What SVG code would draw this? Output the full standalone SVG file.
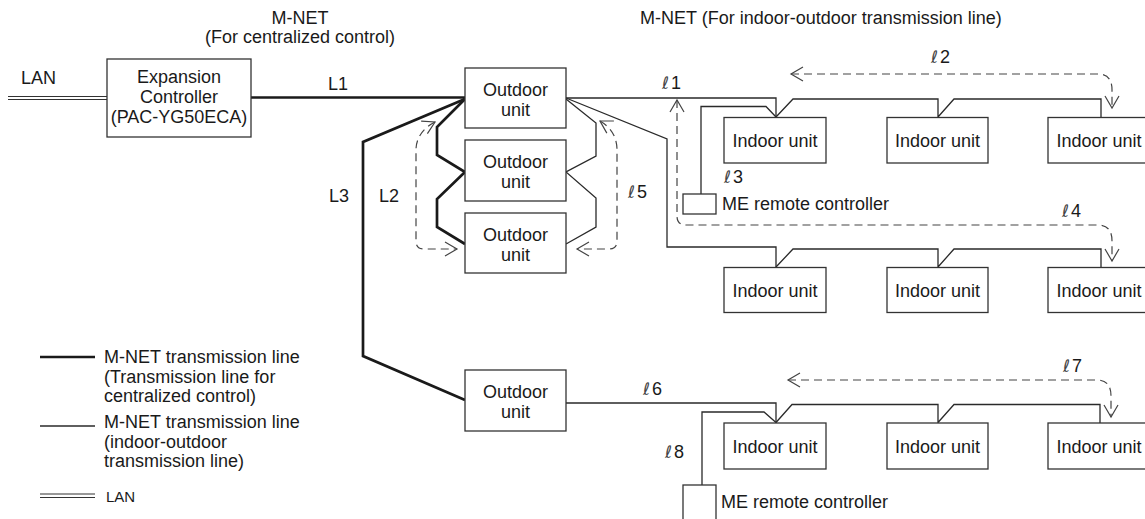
<svg xmlns="http://www.w3.org/2000/svg" width="1145" height="519" viewBox="0 0 1145 519">
<style>
text{font-family:"Liberation Sans",Arial,sans-serif;font-size:18px;fill:#1a1a1a}
.c{text-anchor:middle}
.ell{font-family:"DejaVu Sans",sans-serif;font-style:italic;font-size:17px;fill:#444}
.box{fill:#fff;stroke:#333;stroke-width:1.3}
.thin{fill:none;stroke:#2a2a2a;stroke-width:1.3}
.thick{fill:none;stroke:#1a1a1a;stroke-width:2.7;stroke-linejoin:miter}
.dash{fill:none;stroke:#444;stroke-width:1.2;stroke-dasharray:8 5;marker-start:url(#arr);marker-end:url(#arr)}
.lan{fill:none;stroke:#333;stroke-width:1.1}
</style>
<defs>
<marker id="arr" markerUnits="userSpaceOnUse" viewBox="-14 -10 16 20" markerWidth="16" markerHeight="20" refX="0" refY="0" orient="auto-start-reverse">
<path d="M -12 -7 L 0 0 L -12 7" fill="none" stroke="#444" stroke-width="1.2" stroke-dasharray="none"/>
</marker>
</defs>
<rect width="1145" height="519" fill="#fff"/>

<g id="headers">
<text class="c" x="300" y="24">M-NET</text>
<text class="c" x="300" y="43">(For centralized control)</text>
<text x="640" y="24">M-NET (For indoor-outdoor transmission line)</text>
</g>

<g id="connectors">
<path class="lan" d="M 8 96.5 H 107 M 8 99.5 H 107"/>
<path class="thick" d="M 251 97.5 H 465"/>
<path class="thick" d="M 465 99 L 437 127 V 155 L 465 172 L 437 199 V 227 L 465 244"/>
<path class="thick" d="M 465 99 L 363 142 V 356 L 465 400"/>
<path class="thin" d="M 566 99 L 596 123 V 156 L 566 172 L 596 198 V 227 L 566 244"/>
<path class="thin" d="M 566 98 H 776 V 117.5"/>
<path class="thin" d="M 776 117 L 793 99 H 938 V 117.5 M 938 117 L 954 99 H 1101 V 117.5"/>
<path class="thin" d="M 701 194 V 106.5 H 766 L 776 117"/>
<path class="thin" d="M 566 98 L 667 139 V 247 H 776 V 267.5"/>
<path class="thin" d="M 776 267 L 793 249 H 938 V 267.5 M 938 267 L 954 249 H 1101 V 267.5"/>
<path class="thin" d="M 566 403 H 776 V 423"/>
<path class="thin" d="M 776 422.5 L 792 404.5 H 938 V 423 M 938 422.5 L 954 404.5 H 1100 V 423"/>
<path class="thin" d="M 702 485 V 412 H 764 L 776 422.5"/>
<path class="dash" d="M 435 122 C 423 128 416 138 416 150 V 241 Q 416 249 424 249 H 457"/>
<path class="dash" d="M 600 121 C 612 128 617 138 617 150 V 241 Q 617 249 609 249 H 577"/>
<path class="dash" d="M 791 74 H 1098 Q 1112 74 1112 90 V 108"/>
<path class="dash" d="M 677 100 V 216 Q 677 225 686 225 H 1098 Q 1112 225 1112 241 V 261"/>
<path class="dash" d="M 788 380 H 1097 Q 1111 380 1111 396 V 417"/>
</g>

<g id="labels">
<text x="21" y="84">LAN</text>
<text x="328" y="90">L1</text>
<text x="329" y="202">L3</text>
<text x="379" y="202">L2</text>
<text x="662" y="89"><tspan class="ell">ℓ</tspan><tspan dx="2">1</tspan></text>
<text x="931" y="63"><tspan class="ell">ℓ</tspan><tspan dx="2">2</tspan></text>
<text x="724" y="183"><tspan class="ell">ℓ</tspan><tspan dx="2">3</tspan></text>
<text x="1062" y="217"><tspan class="ell">ℓ</tspan><tspan dx="2">4</tspan></text>
<text x="628" y="198"><tspan class="ell">ℓ</tspan><tspan dx="2">5</tspan></text>
<text x="643" y="395"><tspan class="ell">ℓ</tspan><tspan dx="2">6</tspan></text>
<text x="1063" y="372"><tspan class="ell">ℓ</tspan><tspan dx="2">7</tspan></text>
<text x="665" y="458"><tspan class="ell">ℓ</tspan><tspan dx="2">8</tspan></text>
</g>

<g id="expansion-controller">
<rect class="box" x="107" y="59" width="144" height="78"/>
<text class="c" x="179" y="83">Expansion</text>
<text class="c" x="179" y="103">Controller</text>
<text class="c" x="179" y="123">(PAC-YG50ECA)</text>
</g>

<g id="outdoor-1">
<rect class="box" x="465" y="68" width="101" height="60"/>
<text class="c" x="515.5" y="96">Outdoor</text>
<text class="c" x="515.5" y="116">unit</text>
</g>
<g id="outdoor-2">
<rect class="box" x="465" y="140" width="101" height="61"/>
<text class="c" x="515.5" y="168">Outdoor</text>
<text class="c" x="515.5" y="188">unit</text>
</g>
<g id="outdoor-3">
<rect class="box" x="465" y="213" width="101" height="60"/>
<text class="c" x="515.5" y="241">Outdoor</text>
<text class="c" x="515.5" y="261">unit</text>
</g>
<g id="outdoor-4">
<rect class="box" x="465" y="370" width="101" height="61"/>
<text class="c" x="515.5" y="398">Outdoor</text>
<text class="c" x="515.5" y="418">unit</text>
</g>

<g id="indoor-1-1"><rect class="box" x="724" y="117.5" width="102" height="45.5"/><text class="c" x="775" y="147">Indoor unit</text></g>
<g id="indoor-1-2"><rect class="box" x="887" y="117.5" width="101" height="45.5"/><text class="c" x="937.5" y="147">Indoor unit</text></g>
<g id="indoor-1-3"><rect class="box" x="1048" y="117.5" width="102" height="45.5"/><text class="c" x="1099" y="147">Indoor unit</text></g>

<g id="indoor-2-1"><rect class="box" x="724" y="267.5" width="102" height="45"/><text class="c" x="775" y="297">Indoor unit</text></g>
<g id="indoor-2-2"><rect class="box" x="887" y="267.5" width="101" height="45"/><text class="c" x="937.5" y="297">Indoor unit</text></g>
<g id="indoor-2-3"><rect class="box" x="1048" y="267.5" width="102" height="45"/><text class="c" x="1099" y="297">Indoor unit</text></g>

<g id="indoor-3-1"><rect class="box" x="724" y="423" width="102" height="46"/><text class="c" x="775" y="453">Indoor unit</text></g>
<g id="indoor-3-2"><rect class="box" x="887" y="423" width="101" height="46"/><text class="c" x="937.5" y="453">Indoor unit</text></g>
<g id="indoor-3-3"><rect class="box" x="1048" y="423" width="102" height="46"/><text class="c" x="1099" y="453">Indoor unit</text></g>

<g id="remote-1">
<rect class="box" x="683" y="194" width="33" height="20"/>
<text x="722" y="210">ME remote controller</text>
</g>
<g id="remote-2">
<rect class="box" x="683" y="485" width="33" height="45"/>
<text x="721" y="508">ME remote controller</text>
</g>

<g id="legend">
<path d="M 40 357 H 95" fill="none" stroke="#1a1a1a" stroke-width="2.7"/>
<text x="104" y="363">M-NET transmission line</text>
<text x="104" y="383">(Transmission line for</text>
<text x="104" y="402">centralized control)</text>
<path d="M 40 426 H 95" fill="none" stroke="#2a2a2a" stroke-width="1.3"/>
<text x="104" y="428">M-NET transmission line</text>
<text x="104" y="448">(indoor-outdoor</text>
<text x="104" y="467">transmission line)</text>
<path class="lan" d="M 40 494 H 95 M 40 497.5 H 95"/>
<text x="106" y="502" style="font-size:15px">LAN</text>
</g>
</svg>
